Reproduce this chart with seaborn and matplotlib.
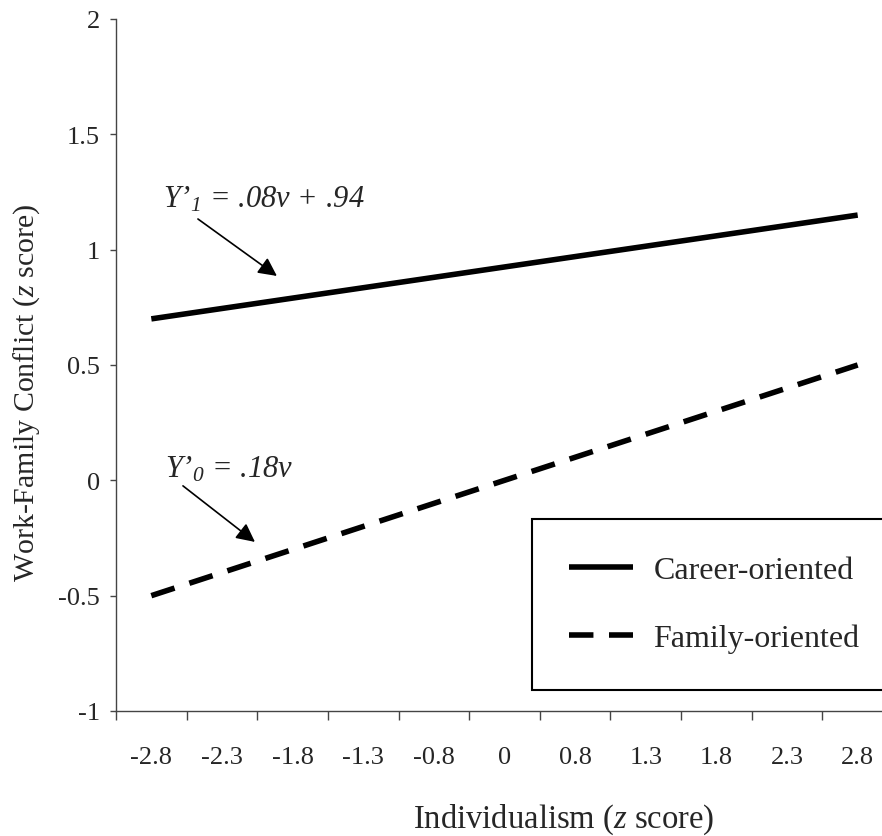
import numpy as np
import pandas as pd
import matplotlib
matplotlib.use("Agg")
import matplotlib.pyplot as plt
from matplotlib.ticker import FixedLocator, NullFormatter, FixedFormatter
import seaborn as sns

# Category labels along the x axis (individualism, z score)
x_labels = ["-2.8", "-2.3", "-1.8", "-1.3", "-0.8", "0", "0.8", "1.3", "1.8", "2.3", "2.8"]

# Simple slopes, drawn between the lowest and highest category
line_x = ["-2.8", "2.8"]
career_vals = [0.70, 1.15]
family_vals = [-0.50, 0.50]

y_ticks = [-1, -0.5, 0, 0.5, 1, 1.5, 2]
y_tick_labels = ["-1", "-0.5", "0", "0.5", "1", "1.5", "2"]

sns.set_theme(style="white")
plt.rcParams["font.family"] = ["Liberation Serif", "DejaVu Serif"]
plt.rcParams["mathtext.fontset"] = "custom"
plt.rcParams["mathtext.rm"] = "Liberation Serif"
plt.rcParams["mathtext.it"] = "Liberation Serif:italic"
# italic face reachable for digits and punctuation via \mathsf
plt.rcParams["mathtext.sf"] = "Liberation Serif:italic"

df = pd.DataFrame({
    "pos": [x_labels.index(v) for v in line_x] * 2,
    "score": career_vals + family_vals,
    "group": ["Career-oriented"] * 2 + ["Family-oriented"] * 2,
})

fig = plt.figure(figsize=(8.82, 8.37), dpi=100)
ax = fig.add_axes([116 / 882, 1 - 712 / 837, 777 / 882, 692 / 837])

lw = 4.0
sns.lineplot(data=df[df.group == "Career-oriented"], x="pos", y="score", ax=ax,
             color="black", linewidth=lw, label="Career-oriented")
sns.lineplot(data=df[df.group == "Family-oriented"], x="pos", y="score", ax=ax,
             color="black", linewidth=lw, label="Family-oriented")
ax.lines[1].set_dashes([4.4, 2.8])
ax.lines[1].set_dash_capstyle("butt")
ax.lines[0].set_solid_capstyle("butt")

ax.set_xlim(-0.5, len(x_labels) - 0.5)
ax.set_ylim(-1, 2)

# Category axis: tick marks between categories, labels centred on them
ax.xaxis.set_major_locator(FixedLocator(np.arange(-0.5, len(x_labels), 1.0)))
ax.xaxis.set_major_formatter(NullFormatter())
ax.xaxis.set_minor_locator(FixedLocator(np.arange(len(x_labels))))
ax.xaxis.set_minor_formatter(FixedFormatter(x_labels))
ax.tick_params(axis="x", which="major", direction="out", length=6.5, width=1,
               color="#444444", bottom=True)
ax.tick_params(axis="x", which="minor", length=0, pad=25.5, labelsize=19, bottom=True)

ax.set_yticks(y_ticks)
ax.set_yticklabels(y_tick_labels)
ax.tick_params(axis="y", direction="out", length=4.5, width=1, color="#444444",
               pad=7, labelsize=19, left=True)

for side in ["top", "right"]:
    ax.spines[side].set_visible(False)
for side in ["left", "bottom"]:
    ax.spines[side].set_color("#444444")
    ax.spines[side].set_linewidth(1)

ax.set_xlabel(r"Individualism ($z$ score)", fontsize=23.5)
ax.set_ylabel(r"Work-Family Conflict ($z$ score)", fontsize=21.5)
ax.xaxis.set_label_coords((564 - 116) / 777, (712 - 803) / 692)
ax.yaxis.set_label_coords((42 - 116) / 777, (712 - 393) / 692)

# Equation labels with arrows pointing at each line
arrow_style = dict(arrowstyle="-|>", color="black", lw=1.2,
                   mutation_scale=28, shrinkA=0, shrinkB=0)
ax.annotate("", xy=(1.778, 0.886), xytext=(0.660, 1.133), arrowprops=arrow_style)
ax.text(0.165, 1.185, r"$\mathsf{Y’}_\mathsf{1}$ = .08$v$ + .94", fontsize=22,
        style="italic", ha="left", va="baseline")
ax.annotate("", xy=(1.467, -0.267), xytext=(0.448, -0.024), arrowprops=arrow_style)
ax.text(0.193, 0.015, r"$\mathsf{Y’}_\mathsf{0}$ = .18$v$", fontsize=22,
        style="italic", ha="left", va="baseline")

leg = ax.legend(loc="upper left",
                bbox_to_anchor=(532 / 882, 1 - 690 / 837, 380 / 882, 170 / 837),
                bbox_transform=fig.transFigure, mode="expand",
                fontsize=23, frameon=True, fancybox=False,
                handlelength=2.0, handletextpad=0.65, labelspacing=1.2,
                borderpad=1.15, borderaxespad=0)
leg.get_frame().set_edgecolor("black")
leg.get_frame().set_linewidth(1.5)
leg.get_frame().set_alpha(1)

fig.savefig("out.png", dpi=100)
